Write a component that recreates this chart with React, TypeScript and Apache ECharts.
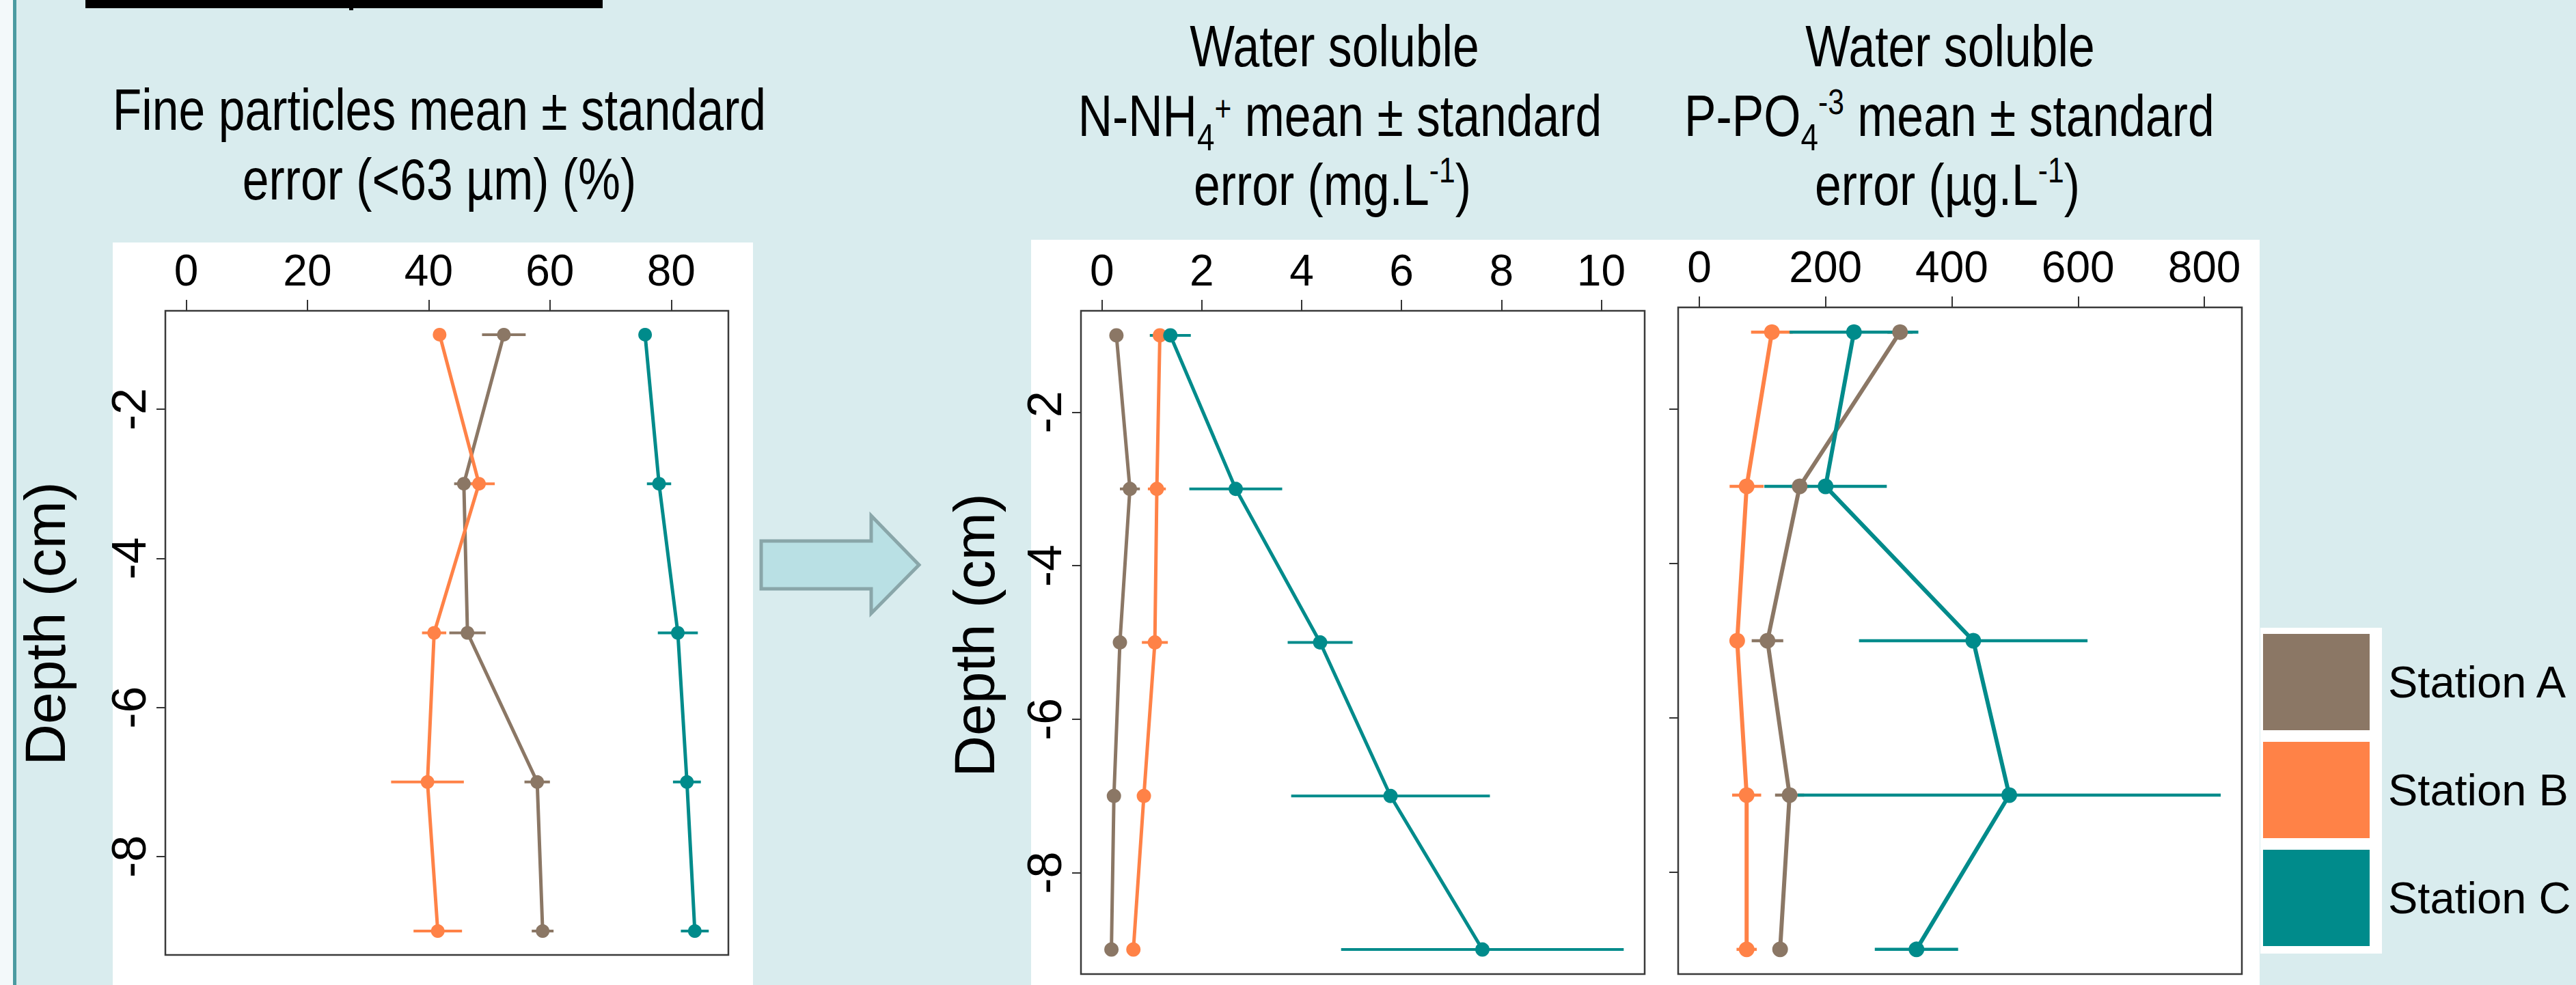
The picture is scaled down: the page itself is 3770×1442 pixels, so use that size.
import React, { useEffect, useRef } from 'react';
import * as echarts from 'echarts';

// ---------------- data ----------------
const depths = [-1, -3, -5, -7, -9];
const stations = ['Station A', 'Station B', 'Station C'];
const stationColors = ['#8B7765', '#FF8247', '#008B8B'];

// Fine particles (<63 µm) (%)
const fineA = [52.4, 45.8, 46.4, 57.9, 58.8];
const fineAErr = [3.6, 1.6, 3.0, 2.1, 1.8];
const fineB = [41.8, 48.3, 40.9, 39.8, 41.5];
const fineBErr = [0.8, 2.6, 2.0, 6.0, 4.0];
const fineC = [75.7, 78.0, 81.1, 82.6, 83.9];
const fineCErr = [0.8, 2.0, 3.3, 2.3, 2.3];

// Water soluble N-NH4+ (mg.L-1)
const nhA = [0.29, 0.56, 0.36, 0.24, 0.19];
const nhAErr = [0.05, 0.2, 0.08, 0.05, 0.05];
const nhB = [1.16, 1.1, 1.06, 0.84, 0.63];
const nhBErr = [0.2, 0.18, 0.26, 0.08, 0.06];
const nhC = [1.37, 2.68, 4.37, 5.78, 7.62];
const nhCErr = [0.41, 0.93, 0.65, 1.99, 2.83];

// Water soluble P-PO4-3 (µg.L-1)
const poA = [318, 159, 108, 143, 128];
const poAErr = [20, 15, 25, 23, 10];
const poB = [115, 75, 60, 75, 75];
const poBErr = [33, 27, 8, 23, 16];
const poC = [245, 200, 434, 491, 344];
const poCErr = [102, 97, 181, 335, 66];

// tick labels
const fineTicks = [0, 20, 40, 60, 80];
const nhTicks = [0, 2, 4, 6, 8, 10];
const poTicks = [0, 200, 400, 600, 800];
const depthTicks = [-2, -4, -6, -8];

const depthLabel = 'Depth (cm)';

function hasFont(name: string): boolean {
  const c = document.createElement('canvas').getContext('2d');
  if (!c) return false;
  const s = 'abcdefghijklmnopqrstuvwxyz0123456789 Water soluble';
  c.font = '72px monospace';
  const w0 = c.measureText(s).width;
  c.font = `72px "${name}", monospace`;
  const w1 = c.measureText(s).width;
  return Math.abs(w0 - w1) > 1;
}

function buildOption() {
  const narrow = hasFont('Liberation Sans Narrow');
  const TF = narrow ? 'Liberation Sans Narrow' : 'Liberation Sans';
  const sx = narrow ? 1 : 0.82;
  const xFs = narrow ? 74 : 64;
  const ctx = document.createElement('canvas').getContext('2d') as CanvasRenderingContext2D;
  const measure = (t: string, size: number) => {
    ctx.font = `${size}px "${TF}"`;
    return ctx.measureText(t).width * sx;
  };

  type Seg = { t: string; size: number; dy?: number };
  const titleLine = (segs: Seg[], cx: number, baseline: number) => {
    const widths = segs.map((s) => measure(s.t, s.size));
    const total = widths.reduce((a, b) => a + b, 0);
    let x = cx - total / 2;
    return segs.map((s, i) => {
      const el = {
        type: 'text',
        x,
        y: baseline + (s.dy || 0) - 0.3465 * s.size,
        scaleX: sx,
        z: 50,
        style: {
          text: s.t,
          fontSize: s.size,
          fontFamily: TF,
          fill: '#000',
          align: 'left',
          verticalAlign: 'middle',
          textAlign: 'left',
          textVerticalAlign: 'middle',
        },
      };
      x += widths[i];
      return el;
    });
  };

  const T = 85;
  const SUB = 56;
  const SUP = 52;
  const titles = [
    ...titleLine([{ t: 'Fine particles mean ± standard', size: T }], 643, 190),
    ...titleLine([{ t: 'error (<63 µm) (%)', size: T }], 643, 292),
    ...titleLine([{ t: 'Water soluble', size: T }], 1953, 97),
    ...titleLine(
      [
        { t: 'N-NH', size: T },
        { t: '4', size: SUB, dy: 21 },
        { t: '+', size: SUP, dy: -22 },
        { t: ' mean ± standard', size: T },
      ],
      1961,
      199
    ),
    ...titleLine(
      [
        { t: 'error (mg.L', size: T },
        { t: '-1', size: SUP, dy: -33 },
        { t: ')', size: T },
      ],
      1950,
      300
    ),
    ...titleLine([{ t: 'Water soluble', size: T }], 2854, 97),
    ...titleLine(
      [
        { t: 'P-PO', size: T },
        { t: '4', size: SUB, dy: 21 },
        { t: '-3', size: SUP, dy: -32 },
        { t: ' mean ± standard', size: T },
      ],
      2853,
      199
    ),
    ...titleLine(
      [
        { t: 'error (µg.L', size: T },
        { t: '-1', size: SUP, dy: -33 },
        { t: ')', size: T },
      ],
      2850,
      300
    ),
  ];

  const depthText = (x: number, y: number) => ({
    type: 'text',
    x,
    y,
    rotation: Math.PI / 2,
    z: 50,
    style: {
      text: depthLabel,
      fontSize: 84,
      fontFamily: 'Liberation Sans',
      fill: '#000',
      align: 'center',
      verticalAlign: 'middle',
      textAlign: 'center',
      textVerticalAlign: 'middle',
    },
  });

  const graphic = [
    { type: 'rect', z: -10, shape: { x: 0, y: 0, width: 19, height: 1442 }, style: { fill: '#F3F9FA' } },
    { type: 'rect', z: -9, shape: { x: 19, y: 0, width: 5, height: 1442 }, style: { fill: '#4B9BA1' } },
    { type: 'rect', z: -9, shape: { x: 125, y: 0, width: 757, height: 12 }, style: { fill: '#000' } },
    { type: 'rect', z: -9, shape: { x: 511, y: 0, width: 6, height: 15 }, style: { fill: '#000' } },
    { type: 'rect', z: -10, shape: { x: 165, y: 355, width: 937, height: 1087 }, style: { fill: '#FFFFFF' } },
    { type: 'rect', z: -10, shape: { x: 1509, y: 351, width: 1798, height: 1091 }, style: { fill: '#FFFFFF' } },
    { type: 'rect', z: -10, shape: { x: 3308, y: 919, width: 178, height: 477 }, style: { fill: '#FFFFFF' } },
    {
      type: 'polygon',
      z: -5,
      shape: {
        points: [
          [1114, 792],
          [1275, 792],
          [1275, 755],
          [1345, 827],
          [1275, 898],
          [1275, 862],
          [1114, 862],
        ],
      },
      style: { fill: '#B9E0E4', stroke: '#89A6A9', lineWidth: 5 },
    },
    depthText(66, 913),
    depthText(1426, 930),
    ...titles,
  ];

  const grids = [
    { left: 242, top: 455, width: 824, height: 943 },
    { left: 1582, top: 455, width: 825, height: 971 },
    { left: 2456, top: 450, width: 825, height: 976 },
  ].map((g) => ({
    ...g,
    show: true,
    borderColor: '#3a3a3a',
    borderWidth: 2.5,
    backgroundColor: 'rgba(0,0,0,0)',
    containLabel: false,
  }));

  const xRanges = [
    [-3.44, 89.44],
    [-0.42, 10.87],
    [-33.5, 859.5],
  ];
  const xTicks = [fineTicks, nhTicks, poTicks];

  const xAxis = xRanges.map((r, i) => ({
    type: 'value',
    gridIndex: i,
    position: 'top',
    min: r[0],
    max: r[1],
    axisLine: { show: false, onZero: false },
    splitLine: { show: false },
    axisTick: {
      show: true,
      inside: false,
      length: 16,
      customValues: xTicks[i],
      lineStyle: { color: '#333', width: 2 },
    },
    axisLabel: {
      show: true,
      customValues: xTicks[i],
      margin: 27,
      fontSize: xFs,
      fontFamily: TF,
      color: '#000',
    },
  }));

  const yAxis = [0, 1, 2].map((i) => ({
    type: 'value',
    gridIndex: i,
    position: 'left',
    min: -9.32,
    max: -0.68,
    axisLine: { show: false, onZero: false },
    splitLine: { show: false },
    axisTick: {
      show: true,
      inside: false,
      length: 13,
      customValues: depthTicks,
      lineStyle: { color: '#333', width: 2 },
    },
    axisLabel: {
      show: i < 2,
      customValues: depthTicks,
      rotate: 90,
      margin: 18,
      fontSize: 70,
      fontFamily: 'Liberation Sans',
      color: '#000',
    },
  }));

  const panels = [
    { means: [fineA, fineB, fineC], errs: [fineAErr, fineBErr, fineCErr], sym: 20, lw: 5, ew: 4 },
    { means: [nhA, nhB, nhC], errs: [nhAErr, nhBErr, nhCErr], sym: 21, lw: 5, ew: 4 },
    { means: [poA, poB, poC], errs: [poAErr, poBErr, poCErr], sym: 23, lw: 6, ew: 4.5 },
  ];

  const series: any[] = [];
  panels.forEach((p, i) => {
    stations.forEach((name, s) => {
      const color = stationColors[s];
      const mean = p.means[s];
      const err = p.errs[s];
      series.push({
        type: 'custom',
        name: name + ' SE',
        xAxisIndex: i,
        yAxisIndex: i,
        z: 2,
        silent: true,
        clip: false,
        encode: { x: [0, 1], y: 2 },
        data: depths.map((d, k) => [mean[k] - err[k], mean[k] + err[k], d]),
        renderItem: (_params: any, api: any) => {
          const a = api.coord([api.value(0), api.value(2)]);
          const b = api.coord([api.value(1), api.value(2)]);
          return {
            type: 'line',
            shape: { x1: a[0], y1: a[1], x2: b[0], y2: b[1] },
            style: { stroke: color, lineWidth: p.ew },
          };
        },
      });
    });
    stations.forEach((name, s) => {
      const color = stationColors[s];
      const mean = p.means[s];
      series.push({
        type: 'line',
        name,
        xAxisIndex: i,
        yAxisIndex: i,
        z: 3,
        silent: true,
        symbol: 'circle',
        symbolSize: p.sym,
        showSymbol: true,
        lineStyle: { color, width: p.lw },
        itemStyle: { color },
        emphasis: { disabled: true },
        data: depths.map((d, k) => [mean[k], d]),
      });
    });
  });

  return {
    animation: false,
    backgroundColor: '#D9ECEE',
    textStyle: { fontFamily: 'Liberation Sans' },
    grid: grids,
    xAxis,
    yAxis,
    legend: {
      data: stations,
      orient: 'vertical',
      left: 3312,
      top: 928,
      itemWidth: 156,
      itemHeight: 141,
      itemGap: 17,
      icon: 'rect',
      selectedMode: false,
      padding: 0,
      textStyle: {
        fontSize: 65,
        fontFamily: 'Liberation Sans',
        color: '#000',
        padding: [0, 0, 0, 22],
      },
    },
    graphic,
    series,
  };
}

export default function App() {
  const ref = useRef<HTMLDivElement>(null);
  useEffect(() => {
    if (!ref.current) return;
    const chart = echarts.init(ref.current, null, { renderer: 'svg', width: 3770, height: 1442 });
    chart.setOption(buildOption() as any);
    return () => chart.dispose();
  }, []);
  return (
    <div
      ref={ref}
      style={{ position: 'fixed', left: 0, top: 0, width: 3770, height: 1442 }}
    />
  );
}
